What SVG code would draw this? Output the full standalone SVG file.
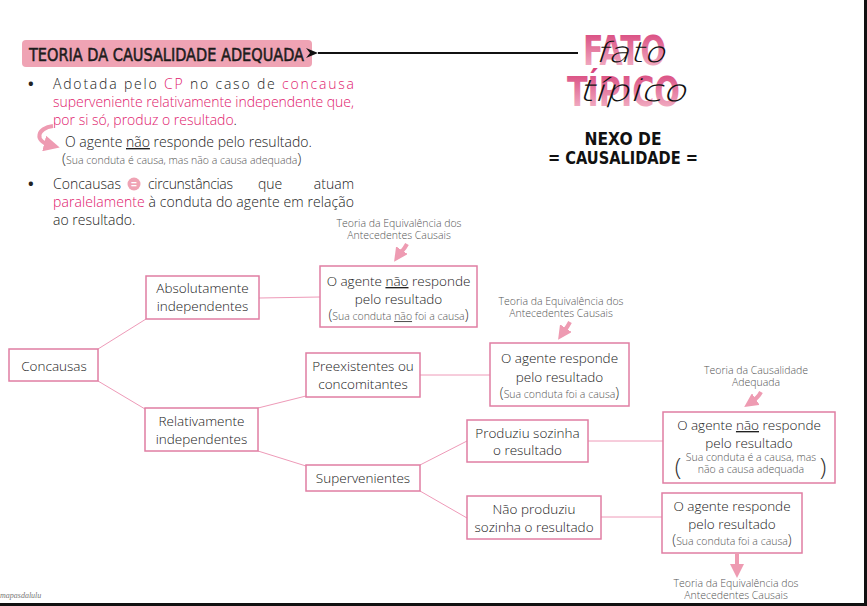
<svg xmlns="http://www.w3.org/2000/svg" width="867" height="606" viewBox="0 0 867 606">
<defs>
<linearGradient id="pinkgrad" x1="0" y1="0" x2="0" y2="1">
<stop offset="0" stop-color="#d63f78"/>
<stop offset="1" stop-color="#f6c0cf"/>
</linearGradient>
<linearGradient id="lineGrad" x1="0" y1="0" x2="1" y2="0">
<stop offset="0" stop-color="#e784a8"/>
<stop offset="1" stop-color="#f9d3df"/>
</linearGradient>
<marker id="blackHead" markerWidth="14" markerHeight="12" refX="1" refY="6" orient="auto" markerUnits="userSpaceOnUse">
<path d="M13,1 L1,6 L13,11 L9,6 Z" fill="#111"/>
</marker>
<marker id="pinkHead" markerWidth="14" markerHeight="14" refX="7" refY="7" orient="auto" markerUnits="userSpaceOnUse">
<path d="M0,0 L14,7 L0,14 Z" fill="#ee9bb2"/>
</marker>
<marker id="pinkHeadBig" markerWidth="16" markerHeight="16" refX="6" refY="8" orient="auto" markerUnits="userSpaceOnUse">
<path d="M0,0 L16,8 L0,16 Z" fill="#ee9bb2"/>
</marker>
<style>
.body{font-family:"Open Sans","Noto Sans",sans-serif;font-weight:300;font-size:14px;fill:#222}
.bul{font-family:"Open Sans","Noto Sans",sans-serif;font-weight:bold;font-size:15px;fill:#222}
.pink{fill:#e0186c}
.small{font-family:"Open Sans","Noto Sans",sans-serif;font-weight:300;font-size:10.5px;fill:#555}
.lbl{font-family:"Open Sans","Noto Sans",sans-serif;font-weight:300;font-size:10.5px;fill:#555;text-anchor:middle}
.node rect{fill:#fff;stroke:#e07ea3;stroke-width:1.5}
.nt{font-family:"Open Sans","Noto Sans",sans-serif;font-weight:300;font-size:13.5px;fill:#222;text-anchor:middle}
.ns{font-family:"Open Sans","Noto Sans",sans-serif;font-weight:300;font-size:10.5px;fill:#555;text-anchor:middle}
.par{font-family:"Open Sans","Noto Sans",sans-serif;font-weight:300;fill:#333}
.conn line{stroke:#ee9ab8;stroke-width:1}
.parrow{fill:none;stroke:#ee9bb2;stroke-width:4}
.cond{font-family:"DejaVu Sans Condensed","Liberation Sans Narrow","Liberation Sans",sans-serif}
.script{font-family:"DejaVu Sans","Liberation Sans",sans-serif;font-weight:200;fill:#111}
</style>
</defs>
<rect width="867" height="606" fill="#fff"/>
<line x1="0" y1="604.5" x2="867" y2="604.5" stroke="#111" stroke-width="3"/>
<line x1="865.5" y1="0" x2="865.5" y2="606" stroke="#111" stroke-width="3"/>

<g id="title">
<rect x="22" y="40" width="290" height="27" rx="4" fill="#efa3b4"/>
<text x="29" y="61" class="cond" font-size="18" fill="#1c1c1c" stroke="#1c1c1c" stroke-width="0.5" textLength="275" lengthAdjust="spacingAndGlyphs">TEORIA DA CAUSALIDADE ADEQUADA</text>
</g>
<g id="title-arrow">
<line x1="578" y1="53" x2="318" y2="53" stroke="#111" stroke-width="2" marker-end="url(#blackHead)"/>
</g>

<g id="fato-tipico">
<text x="583" y="65" class="cond" font-weight="bold" font-size="40" fill="url(#pinkgrad)" textLength="83" lengthAdjust="spacingAndGlyphs">FATO</text>
<text x="567" y="106" class="cond" font-weight="bold" font-size="40" fill="url(#pinkgrad)" textLength="113" lengthAdjust="spacingAndGlyphs">TÍPICO</text>
<text x="0" y="0" class="script" font-size="28" transform="translate(595,62) skewX(-18)" textLength="70" lengthAdjust="spacingAndGlyphs">fato</text>
<text x="0" y="0" class="script" font-size="30" transform="translate(578,101) skewX(-18)" textLength="108" lengthAdjust="spacingAndGlyphs">típico</text>
<text x="623" y="145" class="cond" font-weight="bold" font-size="18" fill="#111" text-anchor="middle" textLength="77" lengthAdjust="spacingAndGlyphs">NEXO DE</text>
<text x="623" y="164" class="cond" font-weight="bold" font-size="18" fill="#111" text-anchor="middle" textLength="150" lengthAdjust="spacingAndGlyphs">= CAUSALIDADE =</text>
</g>

<g id="bullets">
<text x="28" y="89" class="bul">•</text>
<text x="53" y="89" class="body" textLength="301" lengthAdjust="spacing">Adotada pelo <tspan class="pink">CP</tspan> no caso de <tspan class="pink">concausa</tspan></text>
<text x="53" y="107" class="body pink" textLength="301" lengthAdjust="spacing">superveniente relativamente independente que,</text>
<text x="53" y="125" class="body"><tspan class="pink">por si só, produz o resultado</tspan>.</text>
<path d="M53,126 C37,128 34,141 50,145" class="parrow" stroke-width="5" marker-end="url(#pinkHeadBig)"/>
<text x="65" y="147" class="body">O agente <tspan text-decoration="underline">não</tspan> responde pelo resultado.</text>
<text x="62" y="164" class="small"><tspan class="par" font-size="15">(</tspan>Sua conduta é causa, mas não a causa adequada<tspan class="par" font-size="15">)</tspan></text>
<text x="28" y="189" class="bul">•</text>
<text x="53" y="189" class="body">Concausas</text>
<circle cx="134" cy="184" r="6.5" fill="#efa3b4"/>
<text x="134" y="188" font-family="Liberation Sans,sans-serif" font-size="10" font-weight="bold" fill="#fff" text-anchor="middle">=</text>
<text x="148" y="189" class="body" textLength="85" lengthAdjust="spacing">circunstâncias</text>
<text x="258" y="189" class="body">que</text>
<text x="354" y="189" class="body" text-anchor="end">atuam</text>
<text x="53" y="207" class="body" textLength="301" lengthAdjust="spacing"><tspan class="pink">paralelamente</tspan> à conduta do agente em relação</text>
<text x="53" y="225" class="body">ao resultado.</text>
</g>

<g id="connectors" class="conn">
<line x1="98" y1="349" x2="146" y2="319"/>
<line x1="98" y1="381" x2="145" y2="409"/>
<line x1="259" y1="298" x2="320" y2="297" stroke="url(#lineGrad)"/>
<line x1="258" y1="408" x2="306" y2="396"/>
<line x1="258" y1="451" x2="306" y2="466"/>
<line x1="420" y1="375" x2="490" y2="375"/>
<line x1="420" y1="465" x2="467" y2="441"/>
<line x1="420" y1="491" x2="467" y2="518"/>
<line x1="588" y1="441" x2="663" y2="441"/>
<line x1="601" y1="517" x2="662" y2="517"/>
</g>

<g id="concausas" class="node">
<rect x="9" y="349" width="89" height="32"/>
<text x="54" y="371" class="nt">Concausas</text>
</g>
<g id="absolutamente" class="node">
<rect x="146" y="276" width="113" height="43"/>
<text x="202.5" y="293" class="nt">Absolutamente</text>
<text x="202.5" y="311" class="nt">independentes</text>
</g>
<g id="relativamente" class="node">
<rect x="145" y="408" width="113" height="43"/>
<text x="201.5" y="426" class="nt">Relativamente</text>
<text x="201.5" y="444" class="nt">independentes</text>
</g>
<g id="preexistentes" class="node">
<rect x="306" y="353" width="114" height="44"/>
<text x="363" y="371" class="nt">Preexistentes ou</text>
<text x="363" y="389" class="nt">concomitantes</text>
</g>
<g id="supervenientes" class="node">
<rect x="306" y="465" width="114" height="26"/>
<text x="363" y="483" class="nt">Supervenientes</text>
</g>
<g id="produziu" class="node">
<rect x="467" y="420" width="121" height="42"/>
<text x="527.5" y="438" class="nt">Produziu sozinha</text>
<text x="527.5" y="455" class="nt">o resultado</text>
</g>
<g id="nao-produziu" class="node">
<rect x="467" y="496" width="134" height="43"/>
<text x="534" y="514" class="nt">Não produziu</text>
<text x="534" y="532" class="nt">sozinha o resultado</text>
</g>

<g id="result-abs" class="node">
<rect x="320" y="266" width="157" height="61"/>
<text x="398.5" y="286" class="nt" font-size="14">O agente <tspan text-decoration="underline">não</tspan> responde</text>
<text x="398.5" y="304" class="nt" font-size="14">pelo resultado</text>
<text x="398.5" y="320" class="ns"><tspan class="par" font-size="14">(</tspan>Sua conduta <tspan text-decoration="underline">não</tspan> foi a causa<tspan class="par" font-size="14">)</tspan></text>
</g>
<g id="label-abs">
<text x="399" y="227" class="lbl">Teoria da Equivalência dos</text>
<text x="399" y="239" class="lbl">Antecedentes Causais</text>
<path d="M407,244 C404,250 400,253 398,256" class="parrow" marker-end="url(#pinkHead)"/>
</g>

<g id="result-pre" class="node">
<rect x="490" y="343" width="139" height="63"/>
<text x="559.5" y="363" class="nt" font-size="14">O agente responde</text>
<text x="559.5" y="382" class="nt" font-size="14">pelo resultado</text>
<text x="559.5" y="398" class="ns"><tspan class="par" font-size="14">(</tspan>Sua conduta foi a causa<tspan class="par" font-size="14">)</tspan></text>
</g>
<g id="label-pre">
<text x="561" y="305" class="lbl">Teoria da Equivalência dos</text>
<text x="561" y="317" class="lbl">Antecedentes Causais</text>
<path d="M570,322 C567,328 564,331 562,334" class="parrow" marker-end="url(#pinkHead)"/>
</g>

<g id="result-prod" class="node">
<rect x="663" y="412" width="172" height="71"/>
<text x="749" y="430" class="nt" font-size="14">O agente <tspan text-decoration="underline">não</tspan> responde</text>
<text x="749" y="448" class="nt" font-size="14">pelo resultado</text>
<text x="751" y="461" class="ns">Sua conduta é a causa, mas</text>
<text x="751" y="473" class="ns">não a causa adequada</text>
<text x="678" y="475" class="par" font-size="24" text-anchor="middle">(</text>
<text x="823" y="475" class="par" font-size="24" text-anchor="middle">)</text>
</g>
<g id="label-prod">
<text x="756" y="374" class="lbl">Teoria da Causalidade</text>
<text x="756" y="386" class="lbl">Adequada</text>
<path d="M761,392 C758,398 753,401 750,403" class="parrow" marker-end="url(#pinkHead)"/>
</g>

<g id="result-nao" class="node">
<rect x="662" y="493" width="140" height="60"/>
<text x="732" y="511" class="nt" font-size="14">O agente responde</text>
<text x="732" y="529" class="nt" font-size="14">pelo resultado</text>
<text x="732" y="545" class="ns"><tspan class="par" font-size="14">(</tspan>Sua conduta foi a causa<tspan class="par" font-size="14">)</tspan></text>
</g>
<g id="label-nao">
<line x1="737" y1="553" x2="737" y2="571" class="parrow" marker-end="url(#pinkHead)"/>
<text x="736" y="587" class="lbl">Teoria da Equivalência dos</text>
<text x="736" y="599" class="lbl">Antecedentes Causais</text>
</g>

<text x="0" y="598" font-family="Liberation Serif,serif" font-style="italic" font-size="8" fill="#777">mapasdalulu</text>
</svg>
